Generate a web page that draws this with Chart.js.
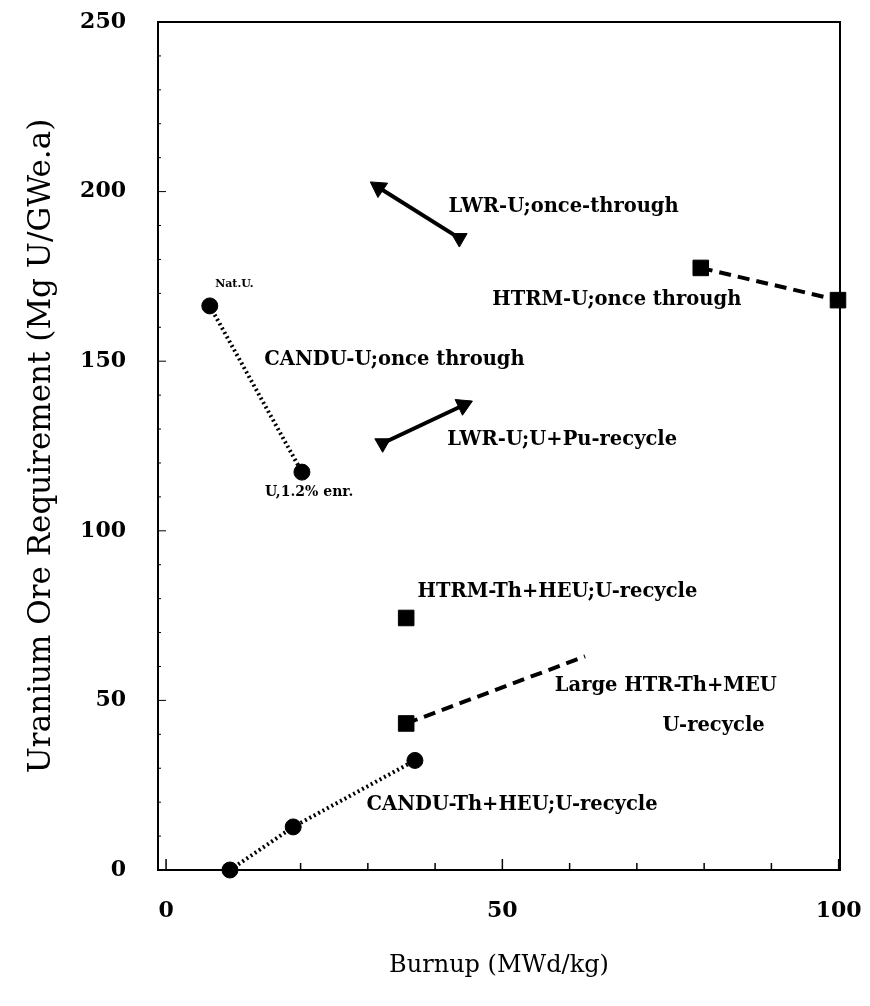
<!DOCTYPE html>
<html><head><meta charset="utf-8">
<script src="https://cdn.jsdelivr.net/npm/chart.js@4"></script>
<style>html,body{margin:0;padding:0;background:#fff}#wrap{width:870px;height:1006px;position:relative}</style>
</head><body><div id="wrap"><canvas id="c"></canvas></div>
<script>
// ---- data (Burnup MWd/kg, Uranium ore Mg U/GWe.a) ----
const canduUBurnup = [6.5, 20.2];
const canduUOre = [166.3, 117.3];
const lwrOnceBurnup = [43.6, 31.6];
const lwrOnceOre = [186.3, 201.2];
const lwrRecBurnup = [32.2, 44.2];
const lwrRecOre = [125.8, 137.0];
const htrmUBurnup = [79.5, 99.9];
const htrmUOre = [177.5, 168.0];
const htrmThBurnup = [35.7];
const htrmThOre = [74.3];
const largeHtrBurnup = [35.7, 62.3];
const largeHtrOre = [43.2, 63.0];
const canduThBurnup = [9.5, 18.9, 37.0];
const canduThOre = [0, 12.7, 32.3];

const xTickLabels = [0, 50, 100];
const yTickLabels = [0, 50, 100, 150, 200, 250];

const noteTexts = ['LWR-U;once-through','HTRM-U;once through','Nat.U.','CANDU-U;once through','LWR-U;U+Pu-recycle','U,1.2% enr.','HTRM-Th+HEU;U-recycle','Large HTR-Th+MEU','U-recycle','CANDU-Th+HEU;U-recycle'];
const noteBurnup = [42.0, 48.5, 7.3, 14.6, 41.8, 14.7, 37.4, 57.8, 73.8, 29.8];
const noteOre = [195.5, 168.0, 172.8, 150.4, 126.8, 111.4, 82.0, 54.2, 42.5, 19.1];
const noteSmall = [false,false,true,false,false,true,false,false,false,false];

function pts(xs, ys){ return xs.map((x,i)=>({x:x, y:ys[i]})); }

const SERIF = '"DejaVu Serif", "Liberation Serif", serif';

const framePlugin = {
  id: 'frame',
  beforeDatasetsDraw(chart){
    const {ctx, chartArea:a, scales} = chart;
    ctx.save();
    ctx.strokeStyle = '#000';
    ctx.lineWidth = 2;
    ctx.strokeRect(a.left, a.top, a.right - a.left, a.bottom - a.top);
    ctx.lineWidth = 1.5;
    scales.x.ticks.forEach(t => {
      const px = scales.x.getPixelForValue(t.value);
      const len = (t.value % 50 === 0) ? 11 : 7;
      ctx.beginPath(); ctx.moveTo(px, a.bottom); ctx.lineTo(px, a.bottom - len); ctx.stroke();
    });
    ctx.lineWidth = 1;
    scales.y.ticks.forEach(t => {
      const py = scales.y.getPixelForValue(t.value);
      const len = (t.value % 50 === 0) ? 8 : 3;
      ctx.beginPath(); ctx.moveTo(a.left, py); ctx.lineTo(a.left + len, py); ctx.stroke();
    });
    ctx.restore();
  }
};

const notePlugin = {
  id: 'notes',
  afterDatasetsDraw(chart){
    const {ctx, scales} = chart;
    ctx.save();
    ctx.fillStyle = '#000';
    ctx.textAlign = 'left';
    ctx.textBaseline = 'middle';
    noteTexts.forEach((t,i) => {
      ctx.font = noteSmall[i] ? ('bold ' + (i===2?11:14) + 'px ' + SERIF) : ('bold 19.5px ' + SERIF);
      ctx.fillText(t, scales.x.getPixelForValue(noteBurnup[i]), scales.y.getPixelForValue(noteOre[i]));
    });
    ctx.restore();
  }
};

const base = {showLine:true, borderColor:'#000', backgroundColor:'#000', pointBackgroundColor:'#000', pointBorderColor:'#000', pointBorderWidth:1, clip:false, borderCapStyle:'butt'};

new Chart(document.getElementById('c'), {
  type: 'scatter',
  data: {
    datasets: [
      Object.assign({}, base, {label:'CANDU-U;once through', data: pts(canduUBurnup, canduUOre), borderWidth:4, borderDash:[2,3], pointStyle:'circle', pointRadius:8}),
      Object.assign({}, base, {label:'LWR-U;once-through', data: pts(lwrOnceBurnup, lwrOnceOre), borderWidth:4, pointStyle:'triangle', pointRadius:[9,10], pointRotation:[180,-56]}),
      Object.assign({}, base, {label:'LWR-U;U+Pu-recycle', data: pts(lwrRecBurnup, lwrRecOre), borderWidth:4, pointStyle:'triangle', pointRadius:[9,10], pointRotation:[180,65]}),
      Object.assign({}, base, {label:'HTRM-U;once through', data: pts(htrmUBurnup, htrmUOre), borderWidth:4, borderDash:[12,7], pointStyle:'rect', pointRadius:11}),
      Object.assign({}, base, {label:'HTRM-Th+HEU;U-recycle', data: pts(htrmThBurnup, htrmThOre), showLine:false, pointStyle:'rect', pointRadius:11}),
      Object.assign({}, base, {label:'Large HTR-Th+MEU U-recycle', data: pts(largeHtrBurnup, largeHtrOre), borderWidth:4, borderDash:[12,7], pointStyle:'rect', pointRadius:[11,0]}),
      Object.assign({}, base, {label:'CANDU-Th+HEU;U-recycle', data: pts(canduThBurnup, canduThOre), borderWidth:4, borderDash:[2,3], pointStyle:'circle', pointRadius:8})
    ]
  },
  plugins: [framePlugin, notePlugin],
  options: {
    responsive: true,
    maintainAspectRatio: false,
    animation: false,
    layout: {padding: {top: 22, right: 30, left: 0, bottom: 0}},
    plugins: {legend: {display:false}, tooltip: {enabled:false}},
    scales: {
      x: {
        type: 'linear', min: -1.2, max: 100.2,
        afterFit: s => { s.height = 136; s.paddingLeft = 0; s.paddingRight = 0; },
        ticks: {stepSize: 10, includeBounds: false, autoSkip: false, maxRotation: 0, padding: 28, color:'#000',
          font: {family: SERIF, size: 22, weight: 'bold'},
          callback: v => xTickLabels.includes(v) ? String(v) : ''},
        grid: {display: false, drawTicks: false},
        border: {display: false},
        title: {display: true, text: 'Burnup (MWd/kg)', color:'#000', font: {family: SERIF, size: 24}, padding: {top: 0, bottom: 26}}
      },
      y: {
        type: 'linear', min: 0, max: 250,
        afterFit: s => { s.width = 158; s.paddingTop = 0; s.paddingBottom = 0; },
        ticks: {stepSize: 10, autoSkip: false, padding: 32, color:'#000',
          font: {family: SERIF, size: 22, weight: 'bold'},
          callback: v => yTickLabels.includes(v) ? String(v) : ''},
        grid: {display: false, drawTicks: false},
        border: {display: false},
        title: {display: true, text: 'Uranium Ore Requirement (Mg U/GWe.a)', color:'#000', font: {family: SERIF, size: 31}, padding: {top: 23, bottom: 0}}
      }
    }
  }
});
</script>
</body></html>
